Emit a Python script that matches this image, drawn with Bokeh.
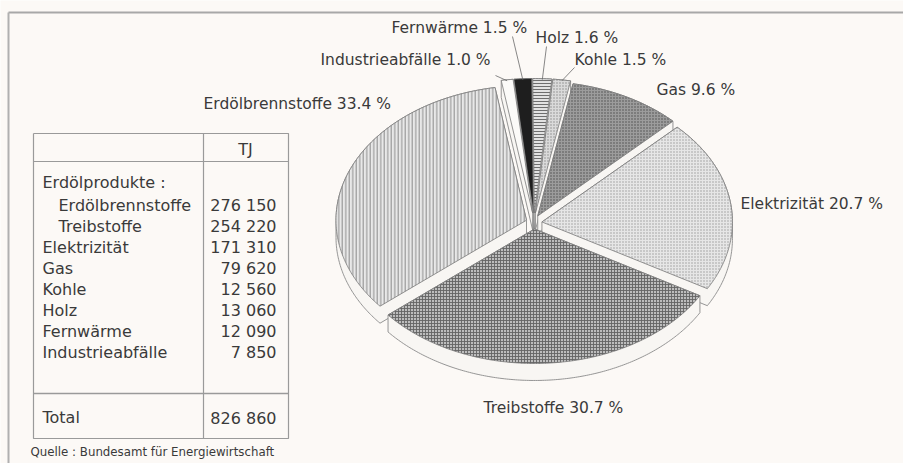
import numpy as np
from bokeh.plotting import figure
from bokeh.models import Range1d
from bokeh.embed import file_html
from bokeh.resources import INLINE
from bokeh.core.properties import value

# ---------------- data ----------------
table_labels = ["Erdölbrennstoffe", "Treibstoffe", "Elektrizität", "Gas",
                "Kohle", "Holz", "Fernwärme", "Industrieabfälle"]
table_tj = [276150, 254220, 171310, 79620, 12560, 13060, 12090, 7850]
total_tj = 826860
table_group = "Erdölprodukte :"
unit = "TJ"
source_note = "Quelle : Bundesamt für Energiewirtschaft"

# pie, clockwise from 12 o'clock
pie_names = ["Holz", "Kohle", "Gas", "Elektrizität", "Treibstoffe",
             "Erdölbrennstoffe", "Industrieabfälle", "Fernwärme"]
pie_pct = [1.6, 1.5, 9.6, 20.7, 30.7, 33.4, 1.0, 1.5]

# ---------------- styles / layout ----------------
W, H = 903, 463
BG = "#fcf9f6"
TXT = "#3a3a3a"
FONT = "DejaVu Sans"

styles = {
    "Holz":             dict(fill="#e2e2e2", hatch="-", hcol="#6e6e6e", hs=3.0, hw=1.0),
    "Kohle":            dict(fill="#dadada", hatch=".", hcol="#8a8a8a", hs=3.0, hw=1.0),
    "Gas":              dict(fill="#9c9c9c", hatch=".", hcol="#4a4a4a", hs=3.0, hw=1.2),
    "Elektrizität":     dict(fill="#e6e6e6", hatch=".", hcol="#9a9a9a", hs=3.0, hw=1.0),
    "Treibstoffe":      dict(fill="#bdbdbd", hatch="+", hcol="#646464", hs=3.0, hw=0.9),
    "Erdölbrennstoffe": dict(fill="#e8e8e8", hatch="|", hcol="#8c8c8c", hs=3.5, hw=1.0),
    "Industrieabfälle": dict(fill="#fbfaf8", hatch=None, hcol=None, hs=1, hw=1),
    "Fernwärme":        dict(fill="#1e1e1e", hatch=None, hcol=None, hs=1, hw=1),
}
explode = {"Holz": 10, "Kohle": 10, "Gas": 8, "Elektrizität": 8, "Treibstoffe": 6,
           "Erdölbrennstoffe": 8, "Industrieabfälle": 10, "Fernwärme": 10}

CX, CY, RX, RY, DEPTH = 533.5, 222.5, 190.5, 134.5, 17
START = -0.5

p = figure(width=W, height=H, output_backend="svg", toolbar_location=None,
           x_range=Range1d(0, W), y_range=Range1d(H, 0),
           x_axis_location=None, y_axis_location=None, min_border=0,
           background_fill_color=BG, border_fill_color=BG, outline_line_color=None)
p.grid.visible = False

# frame of the page
p.line([8, W], [12, 12], line_color="#a8a8a8", line_width=2)
p.line([8, 8], [12, H], line_color="#b0b0b0", line_width=2)


def hull(points):
    pts = sorted(set(points))
    def cross(o, a, b):
        return (a[0]-o[0])*(b[1]-o[1]) - (a[1]-o[1])*(b[0]-o[0])
    lower, upper = [], []
    for q in pts:
        while len(lower) >= 2 and cross(lower[-2], lower[-1], q) <= 0:
            lower.pop()
        lower.append(q)
    for q in reversed(pts):
        while len(upper) >= 2 and cross(upper[-2], upper[-1], q) <= 0:
            upper.pop()
        upper.append(q)
    return lower[:-1] + upper[:-1]


edges = START + np.concatenate([[0], np.cumsum(np.array(pie_pct) * 3.6)])
slices = []
for i, name in enumerate(pie_names):
    a0, a1 = edges[i], edges[i + 1]
    mid = np.radians((a0 + a1) / 2)
    e = explode[name]
    dx, dy = e * np.sin(mid), -e * np.cos(mid)
    t = np.radians(np.linspace(a0, a1, max(4, int((a1 - a0) * 1.5))))
    xs = [CX + dx] + list(CX + dx + RX * np.sin(t))
    ys = [CY + dy] + list(CY + dy - RY * np.cos(t))
    slices.append((np.cos(mid), name, xs, ys, mid))

# back to front
for _, name, xs, ys, mid in sorted(slices, key=lambda s: -s[0]):
    pts = [(round(x, 3), round(y, 3)) for x, y in zip(xs, ys)]
    pts += [(x, y + DEPTH) for x, y in pts]
    hh = hull(pts)
    p.patch([q[0] for q in hh], [q[1] for q in hh], fill_color="#f8f6f3",
            line_color="#8a8a8a", line_width=0.9)
    st = styles[name]
    kw = dict(fill_color=st["fill"], line_color="#7a7a7a", line_width=0.8)
    if st["hatch"]:
        kw.update(hatch_pattern=st["hatch"], hatch_color=st["hcol"],
                  hatch_scale=st["hs"], hatch_weight=st["hw"])
    p.patch(xs, ys, **kw)

# ---------------- pie labels ----------------
label_pos = {
    "Fernwärme": (391, 27), "Holz": (535, 37), "Industrieabfälle": (320, 59),
    "Kohle": (574, 59), "Gas": (656, 89), "Erdölbrennstoffe": (203, 103),
    "Elektrizität": (740, 203), "Treibstoffe": (483, 407),
}
leader_from = {"Fernwärme": (512, 36), "Holz": (546, 46),
               "Industrieabfälle": (495, 75), "Kohle": (574, 67)}
for i, name in enumerate(pie_names):
    x, y = label_pos[name]
    p.text([x], [y], text=[f"{name} {pie_pct[i]:.1f} %"], text_font=value(FONT),
           text_font_size="15.5px", text_color=TXT, text_baseline="middle",
           text_align="left")
for _, name, xs, ys, mid in slices:
    if name in leader_from:
        e = explode[name]
        tx = CX + (RX + e) * np.sin(mid)
        ty = CY - (RY + e) * np.cos(mid)
        fx, fy = leader_from[name]
        p.line([fx, tx], [fy, ty + 1], line_color="#6a6a6a", line_width=0.8)

# ---------------- table ----------------
TL, TR, TD, TT, TB = 33, 288, 203, 133, 438
LINE = "#9a9a9a"
p.line([TL, TR, TR, TL, TL], [TT, TT, TB, TB, TT], line_color=LINE, line_width=1.2)
p.line([TD, TD], [TT, TB], line_color=LINE, line_width=1.2)
p.line([TL, TR], [161, 161], line_color=LINE, line_width=1.2)
p.line([TL, TR], [393, 393], line_color=LINE, line_width=1.6)

tkw = dict(text_font=value(FONT), text_font_size="16px", text_color=TXT,
           text_baseline="middle")
p.text([245], [149], text=[unit], text_align="center", **tkw)
p.text([42], [182], text=[table_group], text_align="left", **tkw)
row_y = [205 + 21 * k for k in range(len(table_labels))]
row_x = [58 if k < 2 else 42 for k in range(len(table_labels))]
fmt = lambda v: f"{v:,}".replace(",", " ")
p.text(row_x, row_y, text=table_labels, text_align="left", **tkw)
p.text([276] * len(table_tj), row_y, text=[fmt(v) for v in table_tj],
       text_align="right", **tkw)
p.text([42], [417], text=["Total"], text_align="left", **tkw)
p.text([276], [418], text=[fmt(total_tj)], text_align="right", **tkw)
p.text([30], [451], text=[source_note], text_align="left", text_font=value(FONT),
       text_font_size="11.8px", text_color=TXT, text_baseline="middle")

html = file_html(p, INLINE)
html = html.replace("<body>", f'<body style="background-color:{BG};">', 1)
open("out.html", "w").write(html)
